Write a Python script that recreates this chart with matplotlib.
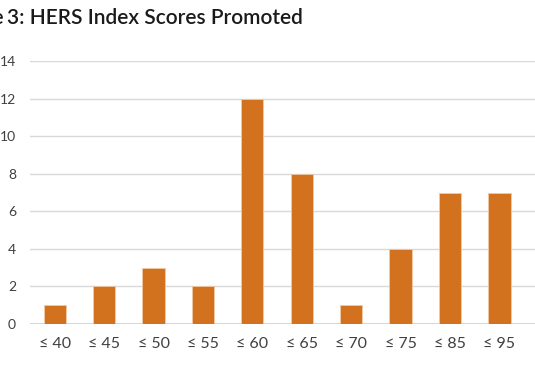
import matplotlib
matplotlib.use("Agg")
import matplotlib.pyplot as plt

categories = ["≤ 40", "≤ 45", "≤ 50", "≤ 55", "≤ 60", "≤ 65", "≤ 70", "≤ 75", "≤ 85", "≤ 95"]
counts = [1, 2, 3, 2, 12, 8, 1, 4, 7, 7]
yticks = [0, 2, 4, 6, 8, 10, 12, 14]

plt.rcParams['font.family'] = ['Lato', 'DejaVu Sans']

W, H = 535, 375
fig = plt.figure(figsize=(W / 100, H / 100), dpi=100)
ax = fig.add_axes([30 / W, 51 / H, 505 / W, 263 / H])

x = list(range(len(categories)))
ax.bar(x, counts, width=0.45, color="#D2711E", edgecolor="#F2C9A5", linewidth=0.6, zorder=3)

ax.set_xlim(-0.5, 9.72)
ax.set_ylim(0, 14)
ax.set_yticks(yticks)
ax.set_yticklabels([str(v) for v in yticks])
ax.set_xticks(x)
ax.set_xticklabels(categories)

ax.grid(axis='y', color="#D9D9D9", linewidth=1.0, zorder=0)
ax.set_axisbelow(True)
for s in ax.spines.values():
    s.set_visible(False)
ax.tick_params(axis='y', length=0, pad=10, labelsize=10, labelcolor="#404040")
ax.tick_params(axis='x', length=0, pad=9, labelsize=11.5, labelcolor="#404040")
ax.axhline(0, color="#D0D0D0", linewidth=1.2, zorder=1)

fig.text(4 / W, 1 - 24 / H, "Figure", ha='right', va='baseline', fontsize=15,
         fontweight='semibold', color="#1a1a1a")
fig.text(7 / W, 1 - 24 / H, "3: HERS Index Scores Promoted", ha='left', va='baseline',
         fontsize=15, fontweight='semibold', color="#1a1a1a")

fig.savefig("out.png", dpi=100)
